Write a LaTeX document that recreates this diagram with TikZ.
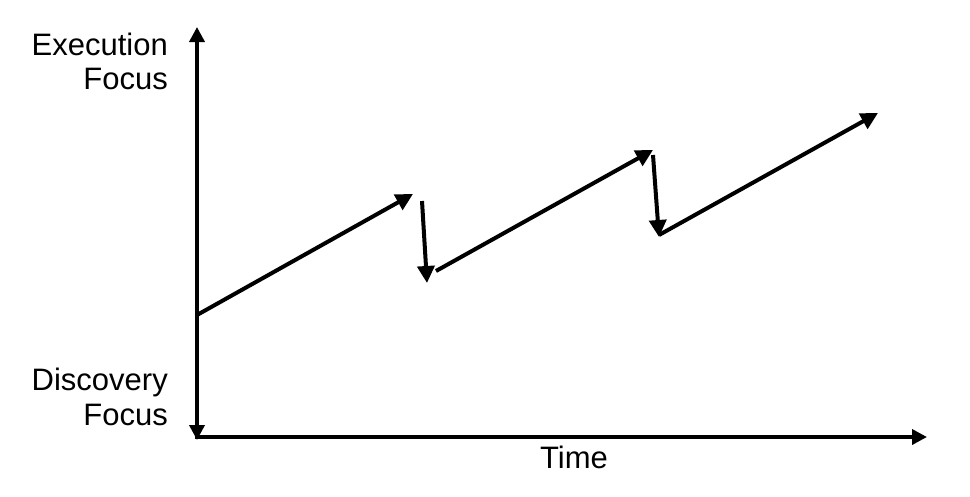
\documentclass[tikz,border=0pt]{standalone}
\usepackage{fontspec}
\setmainfont{Liberation Sans}
\usetikzlibrary{arrows.meta}
\begin{document}
\begin{tikzpicture}[x=1pt,y=-1pt,
  axis/.style={line width=3.6pt,-{Triangle[length=15pt,width=15pt]}},
  trend/.style={line width=4pt,-{Triangle[length=17pt,width=17pt]}},
  lbl/.style={font=\fontsize{31}{36}\selectfont,inner sep=0pt}]
\useasboundingbox (0,0) rectangle (970,496);
% axes
\coordinate (o) at (197,437);
\coordinate (ytop) at (197,27);
\coordinate (ybot) at (197,440);
\coordinate (yorig) at (197,300);
\coordinate (xend) at (927,437);
\draw[axis] (yorig) -- (ytop);
\draw[axis] (yorig) -- (ybot);
\draw[line width=3.6pt] (195.2,437) -- (o);
\draw[axis] (195.2,437) -- (xend);
% labels
\node[lbl,anchor=base east] (ex) at (168,55) {Execution};
\node[lbl,anchor=base east] (exf) at (168,89) {Focus};
\node[lbl,anchor=base east] (di) at (168,390) {Discovery};
\node[lbl,anchor=base east] (dif) at (168,425) {Focus};
\node[lbl,anchor=base] (ti) at (574,468) {Time};
% trend arrows
\coordinate (a0) at (197,315);
\coordinate (a1) at (413,194);
\coordinate (b0) at (422,201);
\coordinate (b1) at (427,283);
\coordinate (c0) at (436,271);
\coordinate (c1) at (653,150);
\coordinate (d0) at (653,155);
\coordinate (d1) at (659,237);
\coordinate (e0) at (659,235);
\coordinate (e1) at (878,113);
\draw[trend] (a0) -- (a1);
\draw[trend] (b0) -- (b1);
\draw[trend] (c0) -- (c1);
\draw[trend] (d0) -- (d1);
\draw[trend] (e0) -- (e1);
\end{tikzpicture}
\end{document}
